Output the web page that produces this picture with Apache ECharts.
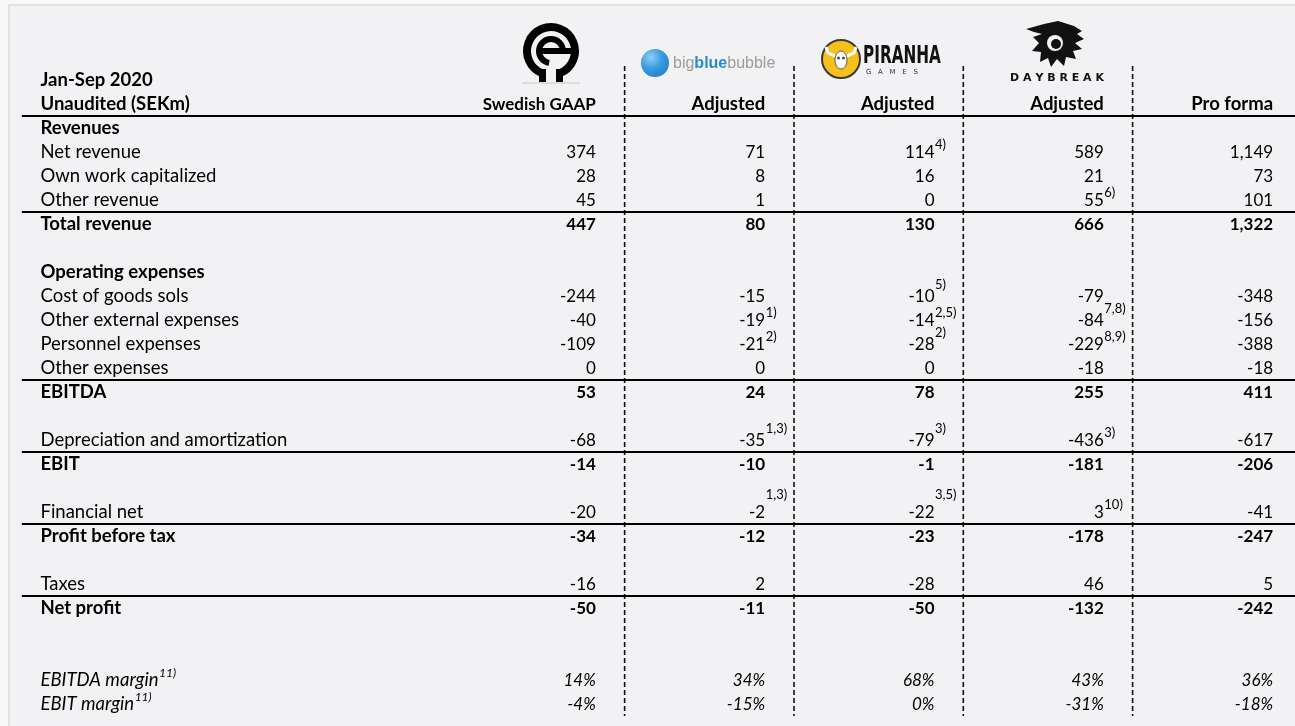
<!DOCTYPE html>
<html>
<head>
<meta charset="utf-8">
<script src="https://cdn.jsdelivr.net/npm/echarts@6/dist/echarts.min.js"></script>
<style>
  html, body { margin: 0; padding: 0; background: #f8f8f8; }
  #main { width: 1295px; height: 726px; }
</style>
</head>
<body>
<div id="main"></div>
<script>
// table layout, one entry per row (blank strings are spacer rows)
var rowLabels = ['Jan-Sep 2020', 'Unaudited (SEKm)', 'Revenues', 'Net revenue', 'Own work capitalized',
  'Other revenue', 'Total revenue', '', 'Operating expenses', 'Cost of goods sols', 'Other external expenses',
  'Personnel expenses', 'Other expenses', 'EBITDA', '', 'Depreciation and amortization', 'EBIT', '',
  'Financial net', 'Profit before tax', '', 'Taxes', 'Net profit', '', '', 'EBITDA margin', 'EBIT margin'];
var boldRows = ['Jan-Sep 2020', 'Unaudited (SEKm)', 'Revenues', 'Operating expenses'];
var totalRows = ['Total revenue', 'EBITDA', 'EBIT', 'Profit before tax', 'Net profit'];
var columnHeaders = ['Swedish GAAP', 'Adjusted', 'Adjusted', 'Adjusted', 'Pro forma'];

// values (SEKm)
var lineItems = ['Net revenue', 'Own work capitalized', 'Other revenue', 'Total revenue', 'Cost of goods sols',
  'Other external expenses', 'Personnel expenses', 'Other expenses', 'EBITDA', 'Depreciation and amortization',
  'EBIT', 'Financial net', 'Profit before tax', 'Taxes', 'Net profit'];
var swedishGaap = [374, 28, 45, 447, -244, -40, -109, 0, 53, -68, -14, -20, -34, -16, -50];
var bigBlueBubble = [71, 8, 1, 80, -15, -19, -21, 0, 24, -35, -10, -2, -12, 2, -11];
var piranha = [114, 16, 0, 130, -10, -14, -28, 0, 78, -79, -1, -22, -23, -28, -50];
var daybreak = [589, 21, 55, 666, -79, -84, -229, -18, 255, -436, -181, 3, -178, 46, -132];
var proForma = [1149, 73, 101, 1322, -348, -156, -388, -18, 411, -617, -206, -41, -247, 5, -242];

// margins (%)
var marginItems = ['EBITDA margin', 'EBIT margin'];
var ebitdaMargin = [14, 34, 68, 43, 36];
var ebitMargin = [-4, -15, 0, -31, -18];

// footnote markers: row, column, marker, how high it sits (0 normal, 1 raised, 2 very raised)
var footnotes = [
  ['Net revenue', 2, '4)', 0],
  ['Other revenue', 3, '6)', 0],
  ['Cost of goods sols', 2, '5)', 1],
  ['Other external expenses', 1, '1)', 0],
  ['Other external expenses', 2, '2,5)', 0],
  ['Other external expenses', 3, '7,8)', 1],
  ['Personnel expenses', 1, '2)', 0],
  ['Personnel expenses', 2, '2)', 1],
  ['Personnel expenses', 3, '8,9)', 0],
  ['Depreciation and amortization', 1, '1,3)', 1],
  ['Depreciation and amortization', 2, '3)', 1],
  ['Depreciation and amortization', 3, '3)', 0],
  ['Financial net', 1, '1,3)', 2],
  ['Financial net', 2, '3,5)', 2],
  ['Financial net', 3, '10)', 0],
  ['EBITDA margin', -1, '11)', 0],
  ['EBIT margin', -1, '11)', 0]
];

var FAMILY = 'Lato, "Noto Sans", sans-serif';
var TEXT_SIZE = 18.5;      // labels and headers
var NUM_SIZE = 17;         // figures
var LABEL_X = -1.95;       // x of the row label column
var NUM_OFFSET = 0.33;     // numbers right-aligned at column index + offset
var columns = [swedishGaap, bigBlueBubble, piranha, daybreak, proForma];
var margins = [ebitdaMargin, ebitMargin];

var measure = document.createElement('canvas').getContext('2d');
function textWidth(t, font) { measure.font = font; return measure.measureText(t).width; }
function fmt(v) { return v.toLocaleString('en-US'); }
function rowOf(name) { return rowLabels.indexOf(name); }
function fontFor(kind, size) {
  if (kind === 'bold') return 'bold ' + size + 'px ' + FAMILY;
  if (kind === 'italic') return 'italic ' + size + 'px ' + FAMILY;
  return size + 'px ' + FAMILY;
}

// build text cells
var cells = [];
rowLabels.forEach(function (label, r) {
  if (!label) return;
  var kind = (boldRows.indexOf(label) >= 0 || totalRows.indexOf(label) >= 0) ? 'bold'
    : (marginItems.indexOf(label) >= 0 ? 'italic' : 'normal');
  cells.push({ x: LABEL_X, y: r, text: label, font: fontFor(kind, TEXT_SIZE), align: 'left' });
});
columnHeaders.forEach(function (h, c) {
  cells.push({ x: c + 1 + NUM_OFFSET, y: rowOf('Unaudited (SEKm)'), text: h,
    font: fontFor('bold', c === 0 ? 17 : TEXT_SIZE), align: 'right' });
});
lineItems.forEach(function (item, i) {
  var kind = totalRows.indexOf(item) >= 0 ? 'bold' : 'normal';
  columns.forEach(function (col, c) {
    cells.push({ x: c + 1 + NUM_OFFSET, y: rowOf(item), text: fmt(col[i]), font: fontFor(kind, NUM_SIZE), align: 'right' });
  });
});
marginItems.forEach(function (item, m) {
  margins[m].forEach(function (v, c) {
    cells.push({ x: c + 1 + NUM_OFFSET, y: rowOf(item), text: v + '%', font: fontFor('italic', NUM_SIZE), align: 'right' });
  });
});

// superscripts
var notes = footnotes.map(function (f) {
  var isLabel = f[1] < 0;
  return {
    x: isLabel ? LABEL_X : f[1] + 1 + NUM_OFFSET,
    y: rowOf(f[0]),
    text: f[2],
    lift: f[3],
    shift: isLabel ? textWidth(f[0], fontFor('italic', TEXT_SIZE)) : 0,
    italic: isLabel
  };
});

var rules = [rowOf('Unaudited (SEKm)') + 0.5].concat(totalRows.map(function (t) { return rowOf(t) - 0.5; }));
var dividers = [1.5, 2.5, 3.5, 4.5];

var chart = echarts.init(document.getElementById('main'), null, { renderer: 'canvas' });

var option = {
  backgroundColor: '#f8f8f8',
  animation: false,
  grid: { left: 32, right: 10, top: 8, bottom: 10 },
  xAxis: { type: 'value', min: -2, max: 5.4, show: false },
  yAxis: { type: 'value', min: -3, max: 26.5, inverse: true, show: false },
  graphic: [
    { type: 'rect', z: -10, shape: { x: 9, y: 5, width: 1300, height: 730 },
      style: { fill: '#f2f2f4', stroke: '#dcdcdc', lineWidth: 1.5 } },
    // Enad Global 7 mark
    { type: 'group', x: 551, y: 51, children: [
      { type: 'arc', shape: { cx: 0, cy: 0, r: 24, startAngle: Math.PI * 0.62, endAngle: Math.PI * 0.38 + Math.PI * 2 },
        style: { stroke: '#000', lineWidth: 8, fill: null } },
      { type: 'arc', shape: { cx: 0, cy: 0, r: 12, startAngle: 0, endAngle: Math.PI * 0.55, clockwise: false },
        style: { stroke: '#000', lineWidth: 6, fill: null } },
      { type: 'rect', shape: { x: -13, y: -3, width: 34, height: 6 }, style: { fill: '#000' } },
      { type: 'rect', shape: { x: -12, y: 18, width: 7, height: 13 }, style: { fill: '#000' } },
      { type: 'rect', shape: { x: 5, y: 18, width: 7, height: 13 }, style: { fill: '#000' } },
      { type: 'line', shape: { x1: -29, y1: 32, x2: 29, y2: 32 }, style: { stroke: '#c8c8c8', lineWidth: 1 } }
    ] },
    // big blue bubble
    { type: 'circle', shape: { cx: 655, cy: 63, r: 14 },
      style: { fill: new echarts.graphic.RadialGradient(0.35, 0.3, 0.9, [
        { offset: 0, color: '#8dd0f5' }, { offset: 0.45, color: '#3a9be0' }, { offset: 1, color: '#1c78c2' }]) } },
    { type: 'text', x: 673, y: 64, style: {
      text: '{g|big}{b|blue}{g|bubble}', verticalAlign: 'middle',
      rich: { g: { fill: '#9c9c9c', font: '16px "Liberation Sans", Arial, sans-serif' },
              b: { fill: '#2a8bd3', font: 'bold 16px "Liberation Sans", Arial, sans-serif' } } } },
    // Piranha Games
    { type: 'circle', shape: { cx: 841, cy: 59, r: 19 }, style: { fill: '#f6bf1c', stroke: '#3a3a3a', lineWidth: 2 } },
    { type: 'group', x: 841, y: 59, children: [
      { type: 'ellipse', shape: { cx: 0, cy: 1, rx: 6, ry: 9 }, style: { fill: '#fff', stroke: '#555', lineWidth: 1 } },
      { type: 'polyline', shape: { points: [[-6, -3], [-13, -6], [-15, -12]] }, style: { stroke: '#fff', lineWidth: 3, fill: null } },
      { type: 'polyline', shape: { points: [[6, -3], [13, -6], [15, -12]] }, style: { stroke: '#fff', lineWidth: 3, fill: null } },
      { type: 'circle', shape: { cx: -2.5, cy: -1, r: 1.6 }, style: { fill: '#555' } },
      { type: 'circle', shape: { cx: 2.5, cy: -1, r: 1.6 }, style: { fill: '#555' } }
    ] },
    { type: 'text', x: 863, y: 56, scaleX: 0.68, style: {
      text: 'PIRANHA', fill: '#111', verticalAlign: 'middle',
      font: 'bold 25px "DejaVu Sans Condensed", "DejaVu Sans", sans-serif' } },
    { type: 'text', x: 866, y: 72, style: {
      text: 'G   A   M   E   S', fill: '#333', verticalAlign: 'middle',
      font: '7px "DejaVu Sans", sans-serif' } },
    // Daybreak
    { type: 'group', x: 1056, y: 43, children: [
      { type: 'polygon', shape: { points: [[-30, -14], [-12, -19], [2, -22], [18, -17], [26, -12], [21, -9], [28, -4],
        [19, 0], [26, 6], [17, 8], [20, 16], [10, 14], [8, 23], [1, 16], [-5, 24], [-8, 15], [-16, 19], [-15, 9],
        [-24, 8], [-17, 0], [-23, -6], [-14, -9], [-22, -11]] }, style: { fill: '#111' } },
      { type: 'circle', shape: { cx: -1, cy: 0, r: 8 }, style: { fill: '#f2f2f4' } },
      { type: 'circle', shape: { cx: 0, cy: 1, r: 5 }, style: { fill: '#111' } }
    ] },
    { type: 'text', x: 1057, y: 78, style: {
      text: 'D A Y B R E A K', fill: '#111', align: 'center', verticalAlign: 'middle',
      font: 'bold 11px "DejaVu Sans", sans-serif' } }
  ],
  series: [
    {
      type: 'custom', name: 'dividers', coordinateSystem: 'cartesian2d', clip: false, silent: true,
      data: dividers.map(function (d) { return [d]; }),
      renderItem: function (params, api) {
        var a = api.coord([api.value(0), -0.58]);
        var b = api.coord([api.value(0), 26.5]);
        return { type: 'line', shape: { x1: a[0], y1: a[1], x2: b[0], y2: b[1] },
          style: { stroke: '#111', lineWidth: 1.6, lineDash: [5, 3] } };
      }
    },
    {
      type: 'custom', name: 'rules', coordinateSystem: 'cartesian2d', clip: false, silent: true, z: 3,
      data: rules.map(function (r) { return [r]; }),
      renderItem: function (params, api) {
        var a = api.coord([-2.06, api.value(0)]);
        var b = api.coord([5.47, api.value(0)]);
        return { type: 'line', shape: { x1: a[0], y1: a[1], x2: b[0], y2: b[1] },
          style: { stroke: '#000', lineWidth: 2.2 } };
      }
    },
    {
      type: 'custom', name: 'cells', coordinateSystem: 'cartesian2d', clip: false, silent: true, z: 4,
      data: cells.map(function (c) { return [c.x, c.y]; }),
      renderItem: function (params, api) {
        var c = cells[params.dataIndex];
        var p = api.coord([api.value(0), api.value(1)]);
        return { type: 'text', x: p[0], y: p[1] + 0.5,
          style: { text: c.text, fill: '#000', font: c.font, align: c.align, verticalAlign: 'middle' } };
      }
    },
    {
      type: 'custom', name: 'notes', coordinateSystem: 'cartesian2d', clip: false, silent: true, z: 4,
      data: notes.map(function (n) { return [n.x, n.y]; }),
      renderItem: function (params, api) {
        var n = notes[params.dataIndex];
        var p = api.coord([api.value(0), api.value(1)]);
        var lift = [7, 11, 17][n.lift];
        return { type: 'text', x: p[0] + n.shift + 0.5, y: p[1] - lift,
          style: { text: n.text, fill: '#000', align: 'left', verticalAlign: 'middle',
            font: (n.italic ? 'italic ' : '') + (n.italic ? 12 : 13) + 'px ' + FAMILY } };
      }
    }
  ]
};

chart.setOption(option);
</script>
</body>
</html>
